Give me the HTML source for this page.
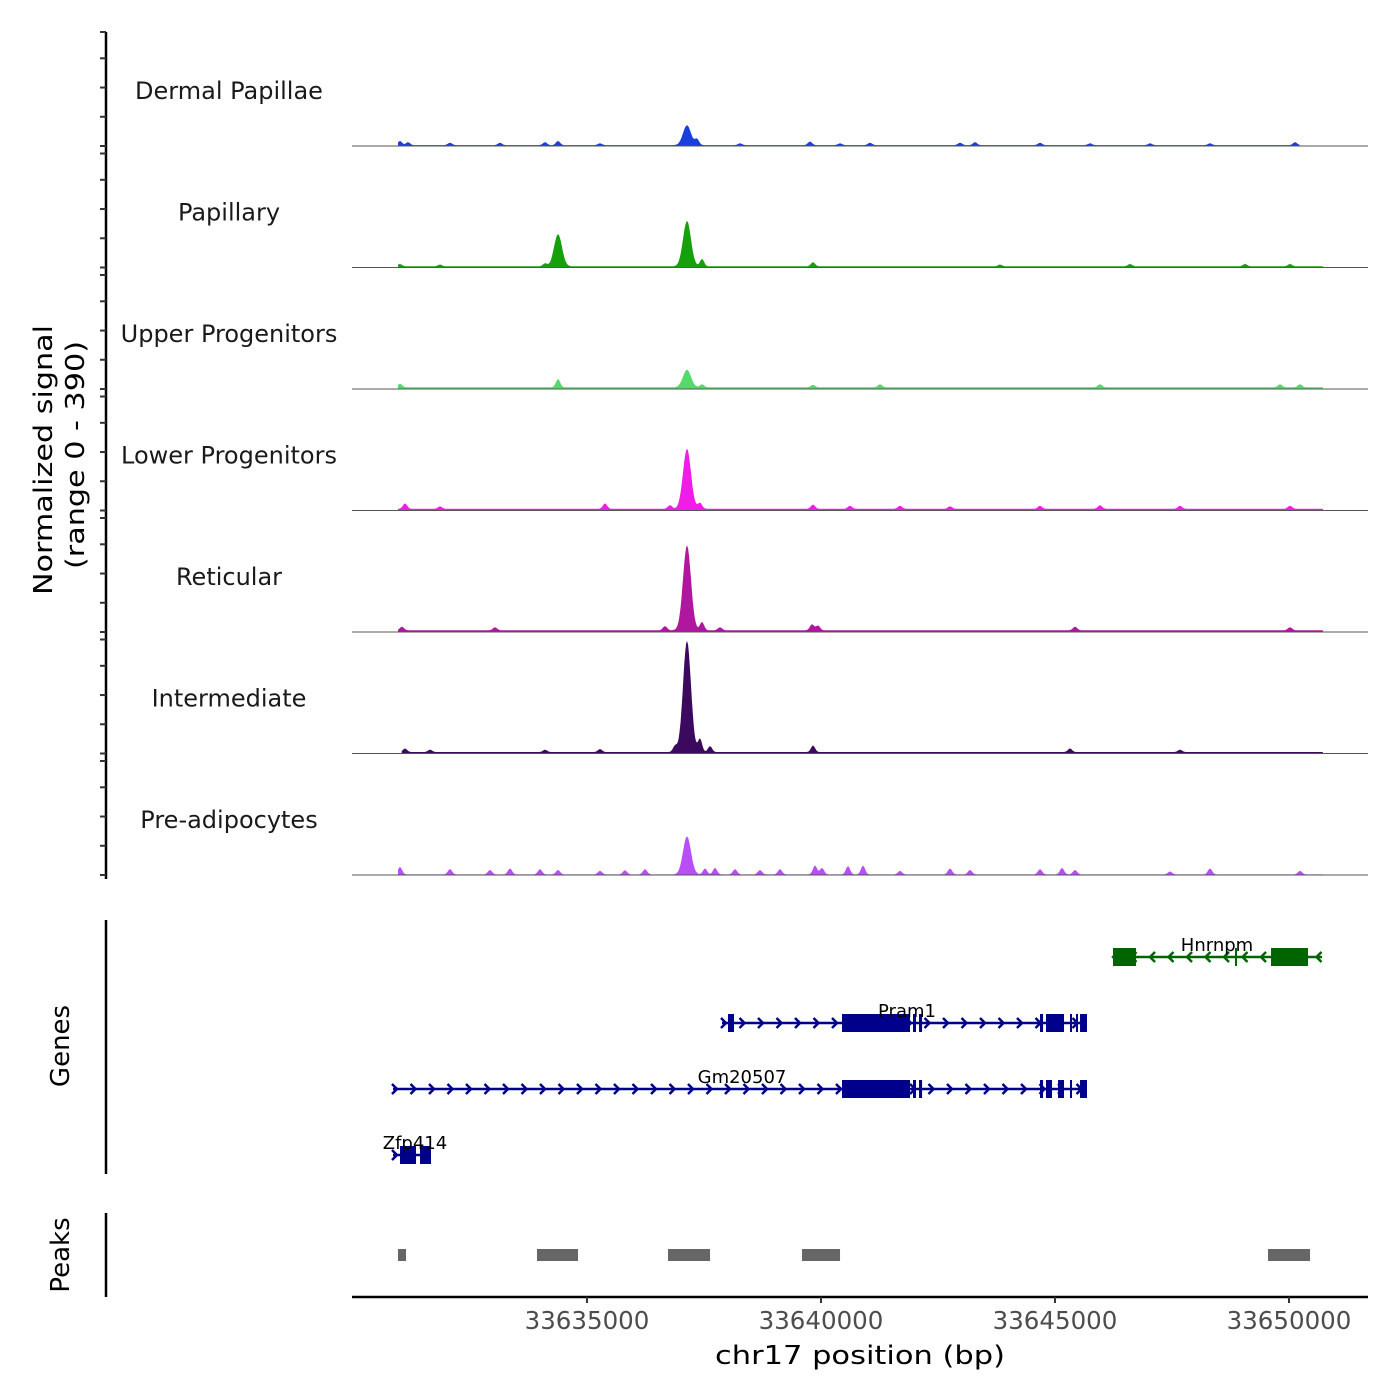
<!DOCTYPE html>
<html><head><meta charset="utf-8">
<style>
html,body{margin:0;padding:0;background:#fff;}
svg{display:block;font-family:"DejaVu Sans","Liberation Sans",sans-serif;}
</style></head>
<body>
<svg id="chart" width="1400" height="1400" viewBox="0 0 1400 1400" xmlns="http://www.w3.org/2000/svg">
  <g id="tracks"></g>
  <g id="genes"></g>
  <g id="peaks"></g>
  <g id="axes"></g>
  <text transform="translate(52,460) rotate(-90)" text-anchor="middle" font-size="26" textLength="270" lengthAdjust="spacingAndGlyphs" fill="#000">Normalized signal</text>
  <text transform="translate(84,455) rotate(-90)" text-anchor="middle" font-size="26" textLength="228" lengthAdjust="spacingAndGlyphs" fill="#000">(range 0 - 390)</text>
  <text transform="translate(69,1046) rotate(-90)" text-anchor="middle" font-size="26" fill="#000">Genes</text>
  <text transform="translate(69,1255) rotate(-90)" text-anchor="middle" font-size="26" fill="#000">Peaks</text>
  <text x="860" y="1364" text-anchor="middle" font-size="26" textLength="290" lengthAdjust="spacingAndGlyphs" fill="#000">chr17 position (bp)</text>
</svg>
<script>
// ---- data ----
const trackNames = ["Dermal Papillae","Papillary","Upper Progenitors","Lower Progenitors","Reticular","Intermediate","Pre-adipocytes"];
const trackColors = ["#1a3fdc","#16a00c","#55d96a","#f01de6","#b0169e","#3b0a5e","#b84ef6"];
const trackBackground = [3,4,6,6,6,5,2];
const trackStart = [33630962,33630962,33630962,33630962,33630962,33631040,33630962];
const trackEnd = [33650236,33650728,33650728,33650728,33650728,33650728,33650728];
const peaksDermal = [[33631005,14],[33631176,10],[33632073,8],[33633141,8],[33634103,10],[33634381,14],[33635278,6],[33637137,68],[33637351,20],[33638270,6],[33639766,12],[33640407,6],[33641048,8],[33642971,8],[33643291,10],[33644680,8],[33645749,6],[33647033,6],[33648313,6],[33650129,10]];
const peaksPapillary = [[33631005,8],[33631859,6],[33634103,10],[33634381,110],[33637137,155],[33637458,25],[33639830,14],[33643825,6],[33646603,8],[33649061,8],[33650022,8]];
const peaksUpper = [[33631005,12],[33634381,28],[33637137,60],[33637458,10],[33639830,8],[33641261,10],[33645962,10],[33649809,10],[33650236,10]];
const peaksLower = [[33631112,18],[33631859,8],[33635385,18],[33636774,12],[33637137,205],[33637415,20],[33639830,14],[33640620,10],[33641689,10],[33642757,8],[33644680,10],[33645962,12],[33647672,10],[33650022,10]];
const peaksReticular = [[33631047,12],[33633035,10],[33636667,14],[33637137,290],[33637458,28],[33637842,10],[33639808,20],[33639936,16],[33645428,12],[33650022,10]];
const peaksIntermediate = [[33631112,12],[33631646,8],[33634103,8],[33635278,10],[33636881,20],[33637137,380],[33637415,45],[33637629,20],[33639830,22],[33645321,12],[33647672,8]];
const peaksPreadipo = [[33631005,25],[33632073,18],[33632928,15],[33633355,20],[33633996,18],[33634381,15],[33635278,12],[33635812,14],[33636240,18],[33637137,130],[33637522,20],[33637736,22],[33638163,18],[33638697,15],[33639125,18],[33639872,30],[33640022,22],[33640577,28],[33640898,30],[33641689,12],[33642757,20],[33643184,15],[33644680,18],[33645150,22],[33645428,15],[33647458,10],[33648313,20],[33650236,12]];
const trackPeaks = [peaksDermal,peaksPapillary,peaksUpper,peaksLower,peaksReticular,peaksIntermediate,peaksPreadipo];
const xTicks = [33635000,33640000,33645000,33650000];
const yTickValues = [0,100,200,300,390];
const geneNames = ["Hnrnpm","Pram1","Gm20507","Zfp414"];
const geneColors = ["#006400","#00008b","#00008b","#00008b"];
const geneStrand = [-1,1,1,1];
const geneStart = [33646240,33637885,33630855,33630855];
const geneEnd = [33650706,33645684,33645684,33631667];
const geneExons = [
  [[33646240,33646732],[33648847,33648890],[33649616,33650407]],
  [[33638013,33638142],[33640449,33641902],[33641966,33642030],[33642095,33642160],[33644680,33644745],[33644808,33645193],[33645321,33645364],[33645449,33645492],[33645535,33645684]],
  [[33640449,33641902],[33641966,33642030],[33642095,33642160],[33644680,33644745],[33644808,33644937],[33645065,33645193],[33645321,33645364],[33645535,33645684]],
  [[33631005,33631347],[33631432,33631667]]
];
const peakStart = [33630962,33633932,33636731,33639595,33649552];
const peakEnd = [33631133,33634808,33637629,33640407,33650450];

// ---- scales ----
const X0=352, X1=1368, BP0=33629979, PXPERBP=0.0468;
function xs(bp){return X0+(bp-BP0)*PXPERBP;}
const YSCALE=114/390;
function baseY(i){return 146+121.5*i;}
const NS="http://www.w3.org/2000/svg";
function mk(tag,attrs,parent){const e=document.createElementNS(NS,tag);for(const k in attrs)e.setAttribute(k,attrs[k]);parent.appendChild(e);return e;}

// ---- coverage tracks ----
const gT=document.getElementById('tracks');
trackNames.forEach((name,i)=>{
  const by=baseY(i);
  const g=mk('g',{},gT);
  
  
  const lab=mk('text',{x:229,y:by-47,'text-anchor':'middle','font-size':24,fill:'#1a1a1a'},g);
  
  
  lab.textContent=name;
  const pk=trackPeaks[i];
  let pts=[[xs(trackStart[i]),by]];
  for(let bp=trackStart[i];bp<=trackEnd[i];bp+=20){
    let v=trackBackground[i];
    for(const p of pk){const s=p[1]>50?85:45;const d=(bp-p[0])/s;if(Math.abs(d)<5)v+=p[1]*Math.exp(-0.5*d*d);}
    v=Math.min(v,390);
    pts.push([xs(bp),by-v*YSCALE]);
  }
  pts.push([xs(trackEnd[i]),by]);
  const area=mk('polygon',{points:pts.map(p=>p[0].toFixed(1)+','+p[1].toFixed(1)).join(' '),fill:trackColors[i],stroke:'none'},g);
  
  
  const bl=mk('line',{x1:X0,x2:X1,y1:by,y2:by,stroke:'#555',"stroke-width":1},g);
  
  
});

// ---- genes ----
const gG=document.getElementById('genes');
const geneRowY=[957,1023,1089,1155];
const geneLabelX=[1217,907,742,415];
geneNames.forEach((n,i)=>{
  const y=geneRowY[i], c=geneColors[i];
  const g=mk('g',{},gG);
  
  
  const x1=xs(geneStart[i]), x2=xs(geneEnd[i]);
  mk('line',{x1:x1,x2:x2,y1:y,y2:y,stroke:c,'stroke-width':2.5},g);
  const step=18.5;
  for(let x=x1+2;x<=x2-2;x+=step){
    const s=geneStrand[i];
    mk('polyline',{points:`${x-3*s},${y-5} ${x+2*s},${y} ${x-3*s},${y+5}`,fill:'none',stroke:c,'stroke-width':2.5},g);
  }
  geneExons[i].forEach(ex=>{
    const r=mk('rect',{x:xs(ex[0]),y:y-9,width:Math.max(2,xs(ex[1])-xs(ex[0])),height:18,fill:c},g);
    
    
  });
  const t=mk('text',{x:geneLabelX[i],y:y-6,'text-anchor':'middle','font-size':18,fill:'#000'},g);
  
  
  t.textContent=n;
});

// ---- peaks ----
const gP=document.getElementById('peaks');
peakStart.forEach((s,i)=>{
  const r=mk('rect',{x:xs(s),y:1249,width:xs(peakEnd[i])-xs(s),height:12,fill:'#666'},gP);
  
  
});

// ---- axes ----
const gA=document.getElementById('axes');
const yl=mk('line',{x1:106,x2:106,y1:32,y2:879,stroke:'#000','stroke-width':2.5},gA);


trackNames.forEach((n,i)=>{
  yTickValues.forEach(v=>{
    const y=baseY(i)-v*YSCALE;
    const t=mk('line',{x1:100,x2:106,y1:y,y2:y,stroke:'#333','stroke-width':2},gA);
    
    
  });
});
const gl=mk('line',{x1:106,x2:106,y1:920,y2:1174,stroke:'#000','stroke-width':2.5},gA);


const pl=mk('line',{x1:106,x2:106,y1:1213,y2:1297,stroke:'#000','stroke-width':2.5},gA);


const xl=mk('line',{x1:X0,x2:X1,y1:1297,y2:1297,stroke:'#000','stroke-width':2.5},gA);


xTicks.forEach(v=>{
  const x=xs(v);
  const t=mk('line',{x1:x,x2:x,y1:1297,y2:1303,stroke:'#333','stroke-width':2},gA);
  
  
  const l=mk('text',{x:x,y:1329,'text-anchor':'middle','font-size':24.5,fill:'#4d4d4d'},gA);
  
  
  l.textContent=v;
});
</script>
</body></html>
